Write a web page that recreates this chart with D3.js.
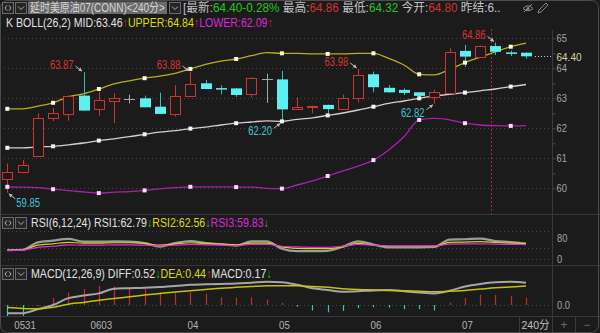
<!DOCTYPE html>
<html lang="zh">
<head>
<meta charset="UTF-8">
<title>延时美原油07 240分</title>
<script src="https://d3js.org/d3.v7.min.js"></script>
<style>
  body { margin: 0; background: #1b1b1b; }
  svg { display: block; font-family: "Liberation Sans", Arial, "Noto Sans CJK SC", sans-serif; }
</style>
</head>
<body>
<svg id="chart" width="600" height="333"></svg>
<script>
// ---- data ----
const opens  = [60.30,60.53,61.08,62.35,62.48,63.09,62.64,62.92,62.98,63.00,62.72,62.48,63.08,63.50,63.34,63.33,63.13,63.64,63.63,62.64,62.74,62.78,62.63,63.00,63.80,63.35,63.28,63.20,63.05,63.19,64.58,64.39,64.74,64.53,64.52];
const highs  = [60.83,60.94,62.50,62.67,63.10,63.87,63.22,63.17,63.12,63.09,63.19,63.44,63.88,63.61,63.44,63.34,63.70,63.82,63.92,63.03,62.76,62.79,63.13,63.98,63.89,63.44,63.33,63.21,63.28,64.67,64.78,64.76,64.86,64.59,64.53];
const lows   = [59.85,60.50,61.05,62.24,62.25,62.59,62.42,62.17,62.83,62.70,62.47,62.39,63.06,63.30,63.13,63.05,63.03,62.85,62.20,62.63,62.50,62.50,62.61,62.87,63.20,63.19,63.11,63.00,62.82,63.18,64.05,64.38,64.44,64.41,64.32];
const closes = [60.55,60.78,62.33,62.50,63.08,62.59,62.94,63.02,62.98,62.70,62.48,63.08,63.47,63.31,63.32,63.11,63.67,63.64,62.63,62.71,62.76,62.64,63.00,63.78,63.37,63.20,63.18,63.08,63.20,64.53,64.39,64.75,64.55,64.51,64.40];

const bollUpper = [62.65,62.65,62.74,62.85,63.05,63.15,63.31,63.48,63.58,63.67,63.74,63.83,63.98,64.13,64.24,64.31,64.42,64.52,64.50,64.50,64.48,64.48,64.48,64.50,64.50,64.33,64.11,63.80,63.78,63.97,64.19,64.37,64.55,64.72,64.84];
const bollMid   = [61.35,61.35,61.38,61.40,61.45,61.51,61.59,61.65,61.72,61.80,61.87,61.92,61.99,62.04,62.11,62.17,62.21,62.25,62.23,62.30,62.35,62.43,62.51,62.61,62.72,62.83,62.91,63.00,63.08,63.13,63.19,63.25,63.31,63.39,63.46];
const bollLower = [60.05,60.04,60.02,59.97,59.92,59.88,59.84,59.87,59.89,59.93,59.98,60.02,60.05,60.05,60.05,60.04,60.04,60.00,59.99,60.11,60.25,60.41,60.58,60.74,60.94,61.28,61.72,62.28,62.33,62.28,62.17,62.11,62.09,62.08,62.09];

const rsi1 = [44,45,66,71,76,68,68,69,68,64,54,64,70,64,61,57,69,69,48,41,41,42,54,69,60,52,52,52,53,74,75,77,70,67,62.79];
const rsi2 = [44,45,58,62,66,64,64,65,65,63,58,62,65,63,61,59,64,64,53,49,48,48,53,63,58,55,55,55,55,66,67,68,66,64,62.56];
const rsi3 = [43,44,52,55,59,58,58,59,59,58,56,58,60,59,58,57,60,60,55,53,52,52,55,60,58,56,56,56,56,61,62,62,61,60.5,59.83];

const macdDiff = [-0.19,-0.19,-0.10,0.00,0.16,0.22,0.27,0.38,0.39,0.40,0.42,0.44,0.47,0.48,0.49,0.50,0.52,0.54,0.53,0.47,0.39,0.35,0.31,0.32,0.34,0.35,0.32,0.29,0.27,0.33,0.43,0.49,0.53,0.54,0.52];
const macdDea  = [-0.06,-0.08,-0.09,-0.05,0.02,0.06,0.11,0.15,0.19,0.23,0.27,0.30,0.33,0.36,0.39,0.41,0.43,0.45,0.45,0.45,0.43,0.41,0.38,0.36,0.35,0.34,0.33,0.32,0.31,0.32,0.34,0.37,0.40,0.42,0.44];
const macdBar  = [-0.26,-0.26,-0.02,0.17,0.29,0.37,0.45,0.43,0.40,0.37,0.29,0.29,0.29,0.26,0.18,0.17,0.18,0.13,0.05,-0.04,-0.13,-0.17,-0.14,-0.07,-0.05,-0.06,-0.10,-0.10,-0.13,0.06,0.16,0.24,0.24,0.21,0.17];

const dateTickIndex  = [1, 6, 12, 18, 24, 30];
const dateTickLabels = ["0531", "0603", "04", "05", "06", "07"];
const priceTicks = [60, 61, 62, 63, 64, 65];
const rsiTicks = [80, 20];
const rsiTickLabels = ["80", "0"];
const lastPrice = 64.40;
const cursorIndex = 31.7;
const highMarks = [5, 12, 23, 32];
const lowMarks = [0, 18, 28];
const quote = { last: "64.40", chg: "-0.28%", high: "64.86", low: "64.32", open: "64.80" };

// ---- layout ----
const axisX = 552.5;
const RED = "#d23232", CYAN = "#5ef0f0", CYAN_W = "#3cb6b6", GRAY = "#a8a8a8";
const YEL = "#dada10", MAG = "#dc28dc", WHITE = "#e2e2e2", GREEN = "#22c422", TXT = "#c4c4c4";

const svg = d3.select("#chart");
svg.append("rect").attr("width", 600).attr("height", 333).attr("fill", "#1b1b1b");

const x  = d3.scaleLinear().domain([0, opens.length - 1]).range([7.3, 526]);
const y  = d3.scaleLinear().domain([60, 65]).range([188.3, 38.3]);
const yR = d3.scaleLinear().domain([0, 100]).range([265.5, 230.5]);
const yM = d3.scaleLinear().domain([0, 0.5]).range([305, 283.5]);
const px = i => Math.round(x(i)) + 0.5;

function numWidth(s) {
  let w = 0;
  for (const ch of s) w += (ch === "." ? 2.4 : ch === "-" ? 3.4 : 5.3);
  return w;
}

// text with coloured parts, squeezed horizontally to a given width
function label(g, tx, ty, parts, size, width, anchor) {
  const holder = g.append("g").attr("transform", `translate(${tx},${ty})`);
  const t = holder.append("text")
    .attr("font-size", size)
    .attr("dominant-baseline", "central")
    .attr("text-anchor", anchor || "start");
  parts.forEach(p => t.append("tspan").attr("fill", p[1]).text(p[0]));
  if (width) {
    const w = t.node().getComputedTextLength();
    if (w > 0) holder.attr("transform", `translate(${tx},${ty}) scale(${width / w},1)`);
  }
  return t;
}

// ---- frame and separators ----
[214.5, 265.5, 316.5].forEach(v => {
  svg.append("line").attr("x1", 0).attr("x2", 600).attr("y1", v).attr("y2", v)
    .attr("stroke", "#383838");
});
svg.append("line").attr("x1", axisX).attr("x2", axisX).attr("y1", 30).attr("y2", 333)
  .attr("stroke", "#3a3a3a");
[519.5, 575.5].forEach(v => {
  svg.append("line").attr("x1", v).attr("x2", v).attr("y1", 316.5).attr("y2", 333)
    .attr("stroke", "#3a3a3a");
});
svg.append("rect").attr("x", 0.5).attr("y", 0.5).attr("width", 598).attr("height", 332)
  .attr("rx", 7).attr("fill", "none").attr("stroke", "#4c4c4c");

// ---- header row 1 ----
function iconBox(g, bx, by, kind) {
  g.append("rect").attr("x", bx + 0.5).attr("y", by + 0.5).attr("width", 11).attr("height", 11)
    .attr("fill", "#252525").attr("stroke", "#6a6a6a");
  const p = kind === "lr"
    ? `M${bx+5},${by+3.5}L${bx+3},${by+6}L${bx+5},${by+8.5}M${bx+7},${by+3.5}L${bx+9},${by+6}L${bx+7},${by+8.5}`
    : `M${bx+3},${by+4.5}L${bx+6},${by+7.5}L${bx+9},${by+4.5}`;
  g.append("path").attr("d", p).attr("fill", "none").attr("stroke", "#b0b0b0");
}
const head = svg.append("g");
iconBox(head, 2, 2, "lr");
iconBox(head, 15, 2, "dn");
head.append("rect").attr("x", 28).attr("y", 1.5).attr("width", 139).attr("height", 12.5).attr("fill", "#6b6b6b");
label(head, 30, 8, [["延时美原油07(CONN)<240分>", "#d6d6d6"]], 12, 135);
iconBox(head, 169, 2, "dn");
label(head, 183, 8, [
  ["[最新:", TXT], [quote.last + quote.chg, GREEN],
  [" 最高:", TXT], [quote.high, RED],
  [" 最低:", TXT], [quote.low, GREEN],
  [" 今开:", TXT], [quote.open, RED],
  [" 昨结:6..", TXT]
], 12, 318);
// eye + pencil icons
head.append("path").attr("d", "M523,8.5 Q528,3 533,8.5 Q528,13 523,8.5 Z M524,12 L532,4")
  .attr("fill", "none").attr("stroke", "#8a8a8a");
head.append("circle").attr("cx", 528).attr("cy", 8.5).attr("r", 1.5).attr("fill", "#8a8a8a");
head.append("path").attr("d", "M538,13 L539,10 L546,3 L548,5 L541,12 Z")
  .attr("fill", "none").attr("stroke", "#8a8a8a");

const n = opens.length - 1;
label(svg, 6, 22.5, [
  ["K BOLL(26,2) MID:" + bollMid[n].toFixed(2), WHITE], ["↑", RED],
  ["UPPER:" + bollUpper[n].toFixed(2), YEL], ["↑", RED],
  ["LOWER:" + bollLower[n].toFixed(2), MAG], ["↑", RED]
], 12, 267);

// ---- main panel ----
svg.append("clipPath").attr("id", "clipMain").append("rect")
  .attr("x", 0).attr("y", 29).attr("width", axisX).attr("height", 185);
const main = svg.append("g").attr("clip-path", "url(#clipMain)");

priceTicks.forEach(p => {
  main.append("line").attr("x1", 0).attr("x2", axisX).attr("y1", Math.round(y(p)) + 0.5).attr("y2", Math.round(y(p)) + 0.5)
    .attr("stroke", "#474747").attr("stroke-dasharray", "1,3");
});

// cursor line
main.append("line").attr("x1", Math.round(x(cursorIndex)) + 0.5).attr("x2", Math.round(x(cursorIndex)) + 0.5)
  .attr("y1", 29).attr("y2", 214).attr("stroke", "#b42a2a").attr("stroke-dasharray", "2,2");

// bollinger bands
const bandLine = d3.line().x((d, i) => x(i)).y(d => y(d)).curve(d3.curveMonotoneX);
[[bollUpper, "#b8ae1c"], [bollMid, "#d0d0d0"], [bollLower, "#b01eb0"]].forEach(([arr, col]) => {
  main.append("path").datum(arr).attr("d", bandLine)
    .attr("fill", "none").attr("stroke", col).attr("stroke-width", 1.3);
});

// candles
opens.forEach((o, i) => {
  const h = highs[i], l = lows[i], c = closes[i];
  const cx = px(i);
  const g = main.append("g");
  if (c === o) {
    g.append("line").attr("x1", cx).attr("x2", cx).attr("y1", y(h)).attr("y2", y(l)).attr("stroke", GRAY);
    g.append("line").attr("x1", cx - 5.5).attr("x2", cx + 5.5).attr("y1", Math.round(y(o)) + 0.5).attr("y2", Math.round(y(o)) + 0.5).attr("stroke", GRAY);
  } else if (c > o) {
    const top = Math.round(y(c)) + 0.5, bot = Math.round(y(o)) + 0.5;
    g.append("line").attr("x1", cx).attr("x2", cx).attr("y1", y(h)).attr("y2", top).attr("stroke", RED);
    g.append("line").attr("x1", cx).attr("x2", cx).attr("y1", bot).attr("y2", y(l)).attr("stroke", RED);
    g.append("rect").attr("x", cx - 5).attr("y", top).attr("width", 10).attr("height", Math.max(1, bot - top))
      .attr("fill", "#1b1b1b").attr("stroke", RED);
  } else {
    const top = y(o), bot = y(c);
    g.append("line").attr("x1", cx).attr("x2", cx).attr("y1", y(h)).attr("y2", y(l)).attr("stroke", CYAN_W);
    g.append("rect").attr("x", cx - 5.5).attr("y", top).attr("width", 11).attr("height", Math.max(1.5, bot - top))
      .attr("fill", CYAN);
  }
});

// band markers every third bar
[[bollUpper, "#fbfbe0"], [bollMid, "#f4f4f4"], [bollLower, "#f6dcf6"]].forEach(([arr, col]) => {
  main.selectAll(null).data(arr.map((v, i) => ({ v, i })).filter(d => d.i % 3 === 0))
    .enter().append("rect")
    .attr("x", d => x(d.i) - 2).attr("y", d => y(d.v) - 2)
    .attr("width", 4).attr("height", 4).attr("fill", col);
});

// high / low annotations
function arrow(g, x1, y1, x2, y2) {
  g.append("line").attr("x1", x1).attr("y1", y1).attr("x2", x2).attr("y2", y2)
    .attr("stroke", "#bcbcbc");
  const a = Math.atan2(y2 - y1, x2 - x1), L = 4;
  const p1 = [x2 - L * Math.cos(a - 0.5), y2 - L * Math.sin(a - 0.5)];
  const p2 = [x2 - L * Math.cos(a + 0.5), y2 - L * Math.sin(a + 0.5)];
  g.append("path").attr("d", `M${x2},${y2}L${p1}L${p2}Z`).attr("fill", "#bcbcbc");
}
const ann = svg.append("g");
highMarks.forEach(i => {
  const cx = x(i), yy = y(highs[i]), s = highs[i].toFixed(2);
  label(ann, cx - 10, yy - 7.5, [[s, "#d83434"]], 12, numWidth(s), "end");
  arrow(ann, cx - 8, yy - 6, cx - 1.5, yy - 1);
});
lowMarks.forEach(i => {
  const cx = x(i), yy = y(lows[i]), s = lows[i].toFixed(2);
  if (cx < 40) {
    label(ann, cx + 9, yy + 10, [[s, "#3ec6cf"]], 12, numWidth(s), "start");
    arrow(ann, cx + 8, yy + 6, cx + 1.5, yy + 1);
  } else {
    label(ann, cx - 10, yy + 8.5, [[s, "#3ec6cf"]], 12, numWidth(s), "end");
    arrow(ann, cx - 8, yy + 6, cx - 1.5, yy + 1);
  }
});

// last price marker
const lpY = Math.round(y(lastPrice)) + 0.5;
svg.append("line").attr("x1", x(n) + 9).attr("x2", axisX).attr("y1", lpY).attr("y2", lpY)
  .attr("stroke", "#cfcfcf").attr("stroke-dasharray", "1,2");

// price axis
const pAxis = svg.append("g").attr("transform", `translate(${axisX},0)`)
  .call(d3.axisRight(y).tickValues(d3.range(60, 65.01, 0.5)).tickSize(3).tickFormat(d => Number.isInteger(d) ? d : ""));
pAxis.select(".domain").remove();
pAxis.selectAll("line").attr("stroke", "#4a4a4a");
pAxis.selectAll("text").attr("fill", "#a4a4a4").attr("font-size", 11.5).attr("x", 4)
  .attr("textLength", d => Number.isInteger(d) ? 10.4 : null)
  .attr("lengthAdjust", "spacingAndGlyphs");
label(svg, axisX + 4, lpY, [[lastPrice.toFixed(2), "#dcd49e"]], 11.5, 25);

// ---- RSI panel ----
iconBox(svg, 2, 217, "lr");
iconBox(svg, 15, 217, "dn");
label(svg, 31, 223, [
  ["RSI(6,12,24) RSI1:" + rsi1[n].toFixed(2), WHITE], ["↓", GREEN],
  ["RSI2:" + rsi2[n].toFixed(2), YEL], ["↓", GREEN],
  ["RSI3:" + rsi3[n].toFixed(2), MAG], ["↓", GREEN]
], 12, 238);
[100, 50, 20].forEach(v => {
  svg.append("line").attr("x1", 0).attr("x2", axisX).attr("y1", Math.round(yR(v)) + 0.5).attr("y2", Math.round(yR(v)) + 0.5)
    .attr("stroke", "#474747").attr("stroke-dasharray", "1,3");
});
const rsiLine = d3.line().x((d, i) => x(i)).y(d => yR(d)).curve(d3.curveMonotoneX);
svg.append("path").datum(rsi1).attr("d", rsiLine).attr("fill", "none").attr("stroke", "#9c9c9c").attr("stroke-width", 2.2);
svg.append("path").datum(rsi2).attr("d", rsiLine).attr("fill", "none").attr("stroke", "#d4d414").attr("stroke-width", 1.2);
svg.append("path").datum(rsi3).attr("d", rsiLine).attr("fill", "none").attr("stroke", "#e030e0").attr("stroke-width", 1.2);
const rAxis = svg.append("g").attr("transform", `translate(${axisX},0)`)
  .call(d3.axisRight(yR).tickValues(rsiTicks).tickSize(0).tickFormat((d, k) => rsiTickLabels[k]));
rAxis.select(".domain").remove();
rAxis.selectAll("text").attr("fill", "#a4a4a4").attr("font-size", 11.5).attr("x", 4.5)
  .attr("textLength", (d, k) => rsiTickLabels[k].length * 5.2).attr("lengthAdjust", "spacingAndGlyphs");

// ---- MACD panel ----
iconBox(svg, 2, 268, "lr");
iconBox(svg, 15, 268, "dn");
label(svg, 31, 273.5, [
  ["MACD(12,26,9) DIFF:" + macdDiff[n].toFixed(2), WHITE], ["↓", GREEN],
  ["DEA:" + macdDea[n].toFixed(2), YEL], ["↑", RED],
  ["MACD:" + macdBar[n].toFixed(2), WHITE], ["↓", GREEN]
], 12, 241);
svg.append("clipPath").attr("id", "clipMacd").append("rect")
  .attr("x", 0).attr("y", 280).attr("width", axisX).attr("height", 36);
const macd = svg.append("g").attr("clip-path", "url(#clipMacd)");
macd.append("line").attr("x1", 0).attr("x2", axisX).attr("y1", Math.round(yM(0)) + 0.5).attr("y2", Math.round(yM(0)) + 0.5)
  .attr("stroke", "#474747").attr("stroke-dasharray", "1,3");
macd.selectAll(null).data(macdBar).enter().append("line")
  .attr("x1", (d, i) => px(i)).attr("x2", (d, i) => px(i))
  .attr("y1", yM(0)).attr("y2", d => yM(d))
  .attr("stroke", d => d >= 0 ? "#c62a2a" : "#38c4c4").attr("stroke-width", 1.2);
const mLine = d3.line().x((d, i) => x(i)).y(d => yM(d)).curve(d3.curveMonotoneX);
macd.append("path").datum(macdDiff).attr("d", mLine).attr("fill", "none").attr("stroke", "#a6a6a6").attr("stroke-width", 2);
macd.append("path").datum(macdDea).attr("d", mLine).attr("fill", "none").attr("stroke", "#c4c20e").attr("stroke-width", 1.5);
const mAxis = svg.append("g").attr("transform", `translate(${axisX},0)`)
  .call(d3.axisRight(yM).tickValues([0]).tickSize(0).tickFormat(d3.format(".1f")));
mAxis.select(".domain").remove();
mAxis.selectAll("text").attr("fill", "#a4a4a4").attr("font-size", 11.5).attr("x", 4.5)
  .attr("textLength", 13).attr("lengthAdjust", "spacingAndGlyphs");

// ---- date axis ----
const xAxis = svg.append("g").attr("transform", "translate(2,317)")
  .call(d3.axisBottom(x).tickValues(dateTickIndex).tickSize(0).tickFormat((d, k) => dateTickLabels[k]));
xAxis.select(".domain").remove();
xAxis.selectAll("text").attr("fill", "#b4b4b4").attr("font-size", 11.5).attr("y", 8).attr("dy", "0.35em")
  .attr("textLength", (d, k) => dateTickLabels[k].length * 5.4).attr("lengthAdjust", "spacingAndGlyphs");

label(svg, 535.5, 325, [["240分", "#c2c2c2"]], 11.5, 28, "middle");
label(svg, 564, 325, [["+", "#6a6a6a"]], 12, null, "middle");
label(svg, 587, 325, [["−", "#6a6a6a"]], 12, null, "middle");
</script>
</body>
</html>
